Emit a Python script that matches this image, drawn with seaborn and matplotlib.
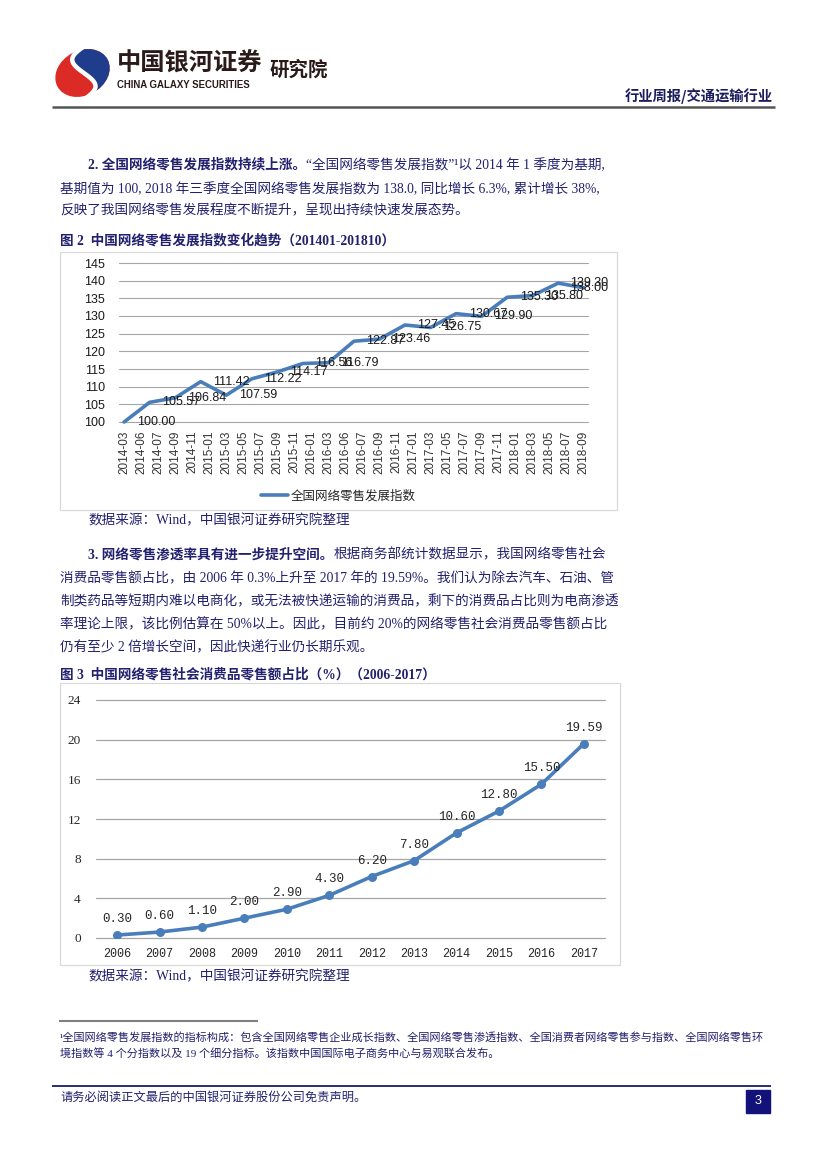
import numpy as np
import pandas as pd
import matplotlib
matplotlib.use("Agg")
import matplotlib.pyplot as plt
import seaborn as sns
from matplotlib.patches import Rectangle, Ellipse, Polygon
from matplotlib.lines import Line2D

# ---------------- data ----------------
idx_ticks = ["2014-03", "2014-06", "2014-07", "2014-09", "2014-11", "2015-01", "2015-03",
             "2015-05", "2015-07", "2015-09", "2015-11", "2016-01", "2016-03", "2016-06",
             "2016-07", "2016-09", "2016-11", "2017-01", "2017-03", "2017-05", "2017-07",
             "2017-09", "2017-11", "2018-01", "2018-03", "2018-05", "2018-07", "2018-09"]
idx_values = [100.00, 105.57, 106.84, 111.42, 107.59, 112.22, 114.17, 116.56, 116.79,
              122.87, 123.46, 127.45, 126.75, 130.67, 129.90, 135.30, 135.80, 139.30, 138.00]
idx_series = "全国网络零售发展指数"
idx_yticks = [100, 105, 110, 115, 120, 125, 130, 135, 140, 145]

share_years = ["2006", "2007", "2008", "2009", "2010", "2011", "2012", "2013",
               "2014", "2015", "2016", "2017"]
share_values = [0.30, 0.60, 1.10, 2.00, 2.90, 4.30, 6.20, 7.80, 10.60, 12.80, 15.50, 19.59]
share_yticks = [0, 4, 8, 12, 16, 20, 24]

# ---------------- setup ----------------
sns.set_theme(style="white")
CJK = "Noto Sans CJK SC"
plt.rcParams['font.family'] = ['Liberation Sans', CJK, 'DejaVu Sans']

W, H = 827, 1169
fig = plt.figure(figsize=(W / 100, H / 100), dpi=100)
fig.patch.set_facecolor("white")


def fx(x):
    return x / W


def fy(y):
    return 1 - y / H


BLUE = "#4a7ebb"
TXT = "#23216e"
BODY = 9.8
body_family = ['Liberation Serif', CJK, 'DejaVu Sans']
renderer = fig.canvas.get_renderer()


def hline(x0, x1, y, color, lw):
    fig.add_artist(Line2D([fx(x0), fx(x1)], [fy(y), fy(y)], transform=fig.transFigure,
                          color=color, lw=lw, solid_capstyle='butt'))


def rich(x, y, parts, size=BODY, color=TXT):
    for txt, bold in parts:
        t = fig.text(fx(x), fy(y), txt, fontsize=size,
                     fontweight='bold' if bold else 'normal',
                     family=body_family, color=color, va='center', ha='left')
        bb = t.get_window_extent(renderer=renderer)
        x += bb.width


# ---------------- header ----------------
axl = fig.add_axes([fx(52), fy(101), fx(113) - fx(52), fy(45) - fy(101)])
axl.set_xlim(-1.1, 1.1)
axl.set_ylim(-1.0, 1.0)
axl.axis('off')
axl.add_patch(Ellipse((0, 0), 2.0, 1.55, angle=28, color="#dc2b26"))
blue_e = Ellipse((0, 0), 2.0, 1.55, angle=28, color="#1f3d8c")
axl.add_patch(blue_e)
ts = np.linspace(-1, 1, 60)
sx = 0.05 - 0.42 * np.sin(np.pi * ts)
sy = 0.95 * ts
clip_pts = np.column_stack([np.r_[sx[::-1], 3, 3], np.r_[sy[::-1], -3, 3]])
clip_poly = Polygon(clip_pts, closed=True, transform=axl.transData, fill=False, lw=0)
axl.add_patch(clip_poly)
blue_e.set_clip_path(clip_poly)
axl.plot(sx, sy, color="white", lw=3.2, solid_capstyle='round')

fig.text(fx(117), fy(64), "中国银河证券", fontsize=17.5, fontweight='bold', family=[CJK],
         color="#2a1a1a", va='center', ha='left')
fig.text(fx(117), fy(85), "CHINA GALAXY SECURITIES", fontsize=6.9, fontweight='bold',
         family=['Liberation Sans'], color="#2a1a1a", va='center', ha='left')
fig.text(fx(270), fy(70), "研究院", fontsize=14, fontweight='bold', family=[CJK],
         color="#2a1a1a", va='center', ha='left')
fig.text(fx(773), fy(96), "行业周报/交通运输行业", fontsize=10.3, fontweight='bold',
         family=[CJK, 'DejaVu Sans'], color="#1c1c5c", va='center', ha='right')
hline(52, 775, 107, "#555555", 1.8)

# ---------------- body text ----------------
rich(88, 165, [("2. 全国网络零售发展指数持续上涨。", True),
               ("“全国网络零售发展指数”¹以 2014 年 1 季度为基期,", False)])
rich(60, 189, [("基期值为 100, 2018 年三季度全国网络零售发展指数为 138.0, 同比增长 6.3%, 累计增长 38%,", False)])
rich(60, 211, [("反映了我国网络零售发展程度不断提升，呈现出持续快速发展态势。", False)])
rich(60, 241, [("图 2  中国网络零售发展指数变化趋势（201401-201810）", True)])
rich(88, 521, [("数据来源：Wind，中国银河证券研究院整理", False)])

rich(88, 555, [("3. 网络零售渗透率具有进一步提升空间。", True),
               ("根据商务部统计数据显示，我国网络零售社会", False)])
rich(60, 579, [("消费品零售额占比，由 2006 年 0.3%上升至 2017 年的 19.59%。我们认为除去汽车、石油、管", False)])
rich(60, 602, [("制类药品等短期内难以电商化，或无法被快递运输的消费品，剩下的消费品占比则为电商渗透", False)])
rich(60, 625, [("率理论上限，该比例估算在 50%以上。因此，目前约 20%的网络零售社会消费品零售额占比", False)])
rich(60, 648, [("仍有至少 2 倍增长空间，因此快递行业仍长期乐观。", False)])
rich(60, 675, [("图 3  中国网络零售社会消费品零售额占比（%）（2006-2017）", True)])
rich(88, 977, [("数据来源：Wind，中国银河证券研究院整理", False)])

hline(59, 258, 1021, "#7f7f7f", 1.5)
rich(60, 1037, [("¹全国网络零售发展指数的指标构成：包含全国网络零售企业成长指数、全国网络零售渗透指数、全国消费者网络零售参与指数、全国网络零售环", False)], size=8)
rich(60, 1053, [("境指数等 4 个分指数以及 19 个细分指标。该指数中国国际电子商务中心与易观联合发布。", False)], size=8)

hline(52, 771, 1086, "#1a1a70", 1.3)
rich(60, 1098, [("请务必阅读正文最后的中国银河证券股份公司免责声明。", False)], size=8.8)
fig.patches.append(Rectangle((fx(746), fy(1113)), fx(770) - fx(746), fy(1090) - fy(1113),
                             transform=fig.transFigure, color="#12127a"))
fig.text(fx(758), fy(1101.5), "3", fontsize=9, color="white", family=['Liberation Sans'],
         va='center', ha='center')

# ---------------- chart frames ----------------
for (x0, y0, x1, y1) in [(60, 252, 617, 510), (60, 683, 620, 965)]:
    fig.patches.append(Rectangle((fx(x0), fy(y1)), fx(x1) - fx(x0), fy(y0) - fy(y1),
                                 transform=fig.transFigure, fill=False, ec="#d9d9d9", lw=0.9))

# ---------------- chart 1 ----------------
df1 = pd.DataFrame({"pos": np.linspace(0, len(idx_ticks) - 1, len(idx_values)),
                    "value": idx_values})
ax1 = fig.add_axes([fx(119), fy(422), fx(588) - fx(119), fy(263) - fy(422)])
sns.lineplot(data=df1, x="pos", y="value", ax=ax1, color=BLUE, lw=2.6, label=idx_series)
for ln in ax1.lines:
    ln.set_clip_on(False)
ax1.set_xlim(-0.3, 27.25)
ax1.set_ylim(100, 145)
for xv, v in zip(df1["pos"], df1["value"]):
    an = ax1.annotate(f"{v:.2f}", (xv, v), xytext=(9, 0), textcoords="offset points",
                      ha="left", va="center", fontsize=9, family=['Liberation Sans'],
                      color="#1a1a1a", annotation_clip=False)
    # keep labels inside the chart area (as the source chart does)
    bb = an.get_window_extent(renderer=renderer)
    limit = 608
    if bb.x1 > limit:
        an.xyann = (9 - (bb.x1 - limit) * 72 / 100, 0)
ax1.set_yticks(idx_yticks)
ax1.set_yticklabels([str(t) for t in idx_yticks], fontsize=9, family=['Liberation Sans'],
                    color="#1a1a1a")
ax1.set_xticks(range(len(idx_ticks)))
ax1.set_xticklabels(idx_ticks, rotation=90, fontsize=8.5, family=['Liberation Sans'],
                    color="#333333", va="top", ha="center")
ax1.tick_params(axis="both", length=0)
ax1.tick_params(axis="x", pad=6)
ax1.tick_params(axis="y", pad=10)
ax1.grid(axis="y", color="#a6a6a6", lw=0.8)
ax1.grid(axis="x", visible=False)
for gl in ax1.get_ygridlines():
    gl.set_clip_on(False)
for s in ax1.spines.values():
    s.set_visible(False)
ax1.set_xlabel("")
ax1.set_ylabel("")
ax1.patch.set_alpha(0)
ax1.legend(loc="center", bbox_to_anchor=(fx(338), fy(496)), bbox_transform=fig.transFigure,
           frameon=False, prop={"family": [CJK], "size": 9}, handlelength=2.2,
           handletextpad=0.2, borderaxespad=0)

# ---------------- chart 2 ----------------
df2 = pd.DataFrame({"pos": np.arange(len(share_years)), "value": share_values})
ax2 = fig.add_axes([fx(96), fy(938), fx(605) - fx(96), fy(700) - fy(938)])
sns.lineplot(data=df2, x="pos", y="value", ax=ax2, color=BLUE, lw=2.6, marker="o",
             markersize=6.5, markeredgecolor=BLUE, markeredgewidth=0)
for xv, v in zip(df2["pos"], df2["value"]):
    ax2.annotate(f"{v:.2f}", (xv, v), xytext=(0, 11.5), textcoords="offset points",
                 ha="center", va="center", fontsize=9, family=['Liberation Mono'],
                 color="#262626", annotation_clip=False)
ax2.set_xlim(-0.5, 11.5)
ax2.set_ylim(0, 24)
ax2.set_yticks(share_yticks)
ax2.set_yticklabels([str(t) for t in share_yticks], fontsize=9.5, family=['Liberation Serif'],
                    color="#262626")
ax2.set_xticks(df2["pos"])
ax2.set_xticklabels(share_years, fontsize=8.5, family=['Liberation Mono'], color="#262626")
ax2.tick_params(axis="both", length=0)
ax2.tick_params(axis="x", pad=7)
ax2.tick_params(axis="y", pad=11)
ax2.grid(axis="y", color="#a6a6a6", lw=0.9)
ax2.grid(axis="x", visible=False)
for gl in ax2.get_ygridlines():
    gl.set_clip_on(False)
for s in ax2.spines.values():
    s.set_visible(False)
ax2.set_xlabel("")
ax2.set_ylabel("")
ax2.patch.set_alpha(0)

fig.savefig("out.png", dpi=100, facecolor="white")
